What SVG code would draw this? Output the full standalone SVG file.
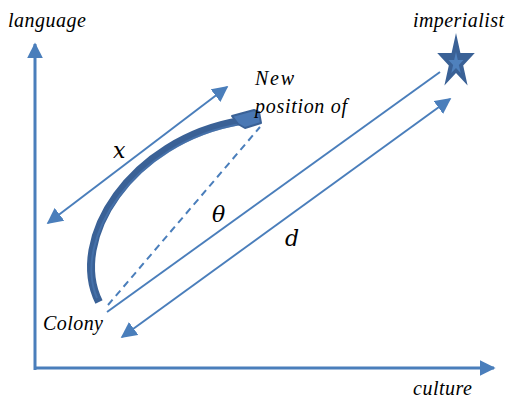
<svg xmlns="http://www.w3.org/2000/svg" width="508" height="401" viewBox="0 0 508 401">
<style>
.ax{stroke:#4a7ebb;stroke-width:3;fill:none}
.ln{stroke:#4a7ebb;stroke-width:2;fill:none}
.lbl{font-family:"Liberation Serif",serif;font-style:italic;font-size:20px;fill:#000}
.math{font-family:"DejaVu Serif","Liberation Serif",serif;font-style:italic;font-size:22px;fill:#000}
</style>
<defs>
<marker id="ahb" viewBox="0 0 10 10" refX="9" refY="5" markerWidth="16" markerHeight="16" markerUnits="userSpaceOnUse" orient="auto-start-reverse">
<path d="M0,0 L10,5 L0,10 z" fill="#4a7ebb"/>
</marker>
</defs>
<rect width="508" height="401" fill="#fff"/>
<g id="connectors">
<line class="ax" x1="35" y1="370" x2="35" y2="44" marker-end="url(#ahb)"/>
<line class="ax" x1="34" y1="368" x2="494" y2="368" marker-end="url(#ahb)"/>
<line class="ln" x1="48" y1="223" x2="227" y2="87" marker-start="url(#ahb)" marker-end="url(#ahb)"/>
<line class="ln" x1="107" y1="312" x2="440" y2="72"/>
<line class="ln" x1="122" y1="337" x2="450" y2="99" marker-start="url(#ahb)" marker-end="url(#ahb)"/>
<line class="ln" x1="108" y1="305" x2="260" y2="127" stroke-dasharray="7,5"/>
</g>
<g id="curved-arrow">
<path d="M99,302 C68,240 130,140 240,121" fill="none" stroke="#3a6196" stroke-width="8"/>
<path d="M97,298 C72,240 133,143 240,124" fill="none" stroke="#4f7fbb" stroke-width="2" opacity="0.5"/>
<path d="M232,116 L254,110 L259,112 L261,123 L245,128 L238,124 Z" fill="#4a78b4" stroke="#3a6196" stroke-width="2" stroke-linejoin="round"/>
</g>
<g id="imperialist">
<polygon points="456,33 460.4,53 474.8,53 463.2,65.4 467.6,85.5 456,73.1 444.4,85.5 448.8,65.4 437.2,53 451.6,53" fill="#3a6196"/>
<polygon points="456,52 457.8,60 463.5,60 458.9,65 460.7,73 456,68 451.3,73 453.1,65 448.5,60 454.2,60" fill="#4f81bd"/>
<text class="lbl" x="413" y="27" textLength="91" lengthAdjust="spacing">imperialist</text>
</g>
<g id="labels">
<text class="lbl" x="8" y="27" textLength="78" lengthAdjust="spacing">language</text>
<text class="lbl" x="413" y="395" textLength="59" lengthAdjust="spacing">culture</text>
<text class="lbl" x="43" y="330" textLength="60" lengthAdjust="spacing">Colony</text>
<text class="lbl" x="255" y="85" textLength="39" lengthAdjust="spacing">New</text>
<text class="lbl" x="255" y="113" textLength="92" lengthAdjust="spacing">position of</text>
<text class="math" x="113" y="158">x</text>
<text class="math" x="212" y="222">θ</text>
<text class="math" x="285" y="246">d</text>
</g>
</svg>
